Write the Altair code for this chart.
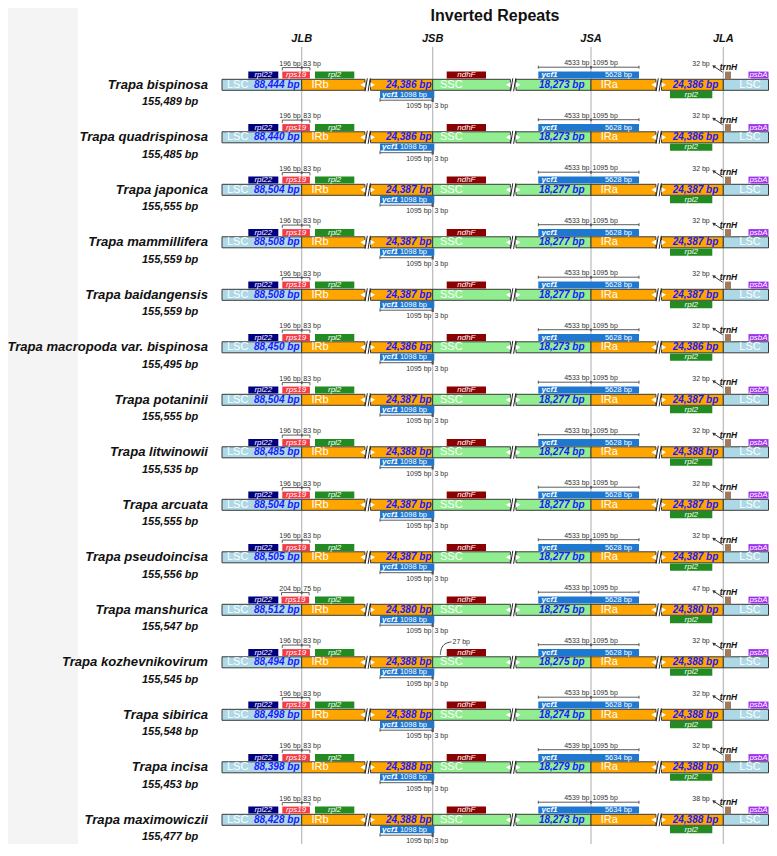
import altair as alt
import pandas as pd

# ---------------- data ----------------
species = ["Trapa bispinosa", "Trapa quadrispinosa", "Trapa japonica", "Trapa mammillifera",
           "Trapa baidangensis", "Trapa macropoda var. bispinosa", "Trapa potaninii",
           "Trapa litwinowii", "Trapa arcuata", "Trapa pseudoincisa", "Trapa manshurica",
           "Trapa kozhevnikovirum", "Trapa sibirica", "Trapa incisa", "Trapa maximowiczii"]
genome_bp = [155489, 155485, 155555, 155559, 155559, 155495, 155555, 155535, 155555, 155556,
             155547, 155545, 155548, 155453, 155477]
lsc_bp = [88444, 88440, 88504, 88508, 88508, 88450, 88504, 88485, 88504, 88505,
          88512, 88494, 88498, 88398, 88428]
ir_bp = [24386, 24386, 24387, 24387, 24387, 24386, 24387, 24388, 24387, 24387,
         24380, 24388, 24388, 24388, 24388]
ssc_bp = [18273, 18273, 18277, 18277, 18277, 18273, 18277, 18274, 18277, 18277,
          18275, 18275, 18274, 18279, 18273]
rps19_left = [196] * 10 + [204] + [196] * 4
rps19_right = [83] * 10 + [75] + [83] * 4
ycf1_ira_left = [4533] * 13 + [4539, 4539]
ycf1_ira_right = [1095] * 15
ycf1_ira_len = [5628] * 13 + [5634, 5634]
ycf1_irb_len = [1098] * 15
ycf1_irb_in = [1095] * 15
ycf1_irb_out = [3] * 15
trnh_gap = [32] * 10 + [47] + [32] * 3 + [38]
ndhf_gap = [None] * 11 + [27] + [None] * 3
junctions = ["JLB", "JSB", "JSA", "JLA"]
title = "Inverted Repeats"

# ---------------- layout ----------------
FONT = "Liberation Sans"
X0, X1 = 222.0, 768.5
J = {"JLB": 301.7, "JSB": 432.7, "JSA": 591.0, "JLA": 723.3}
BREAKS = [367.7, 513.2, 658.7]
HG = 2.8
PXBP = 0.099
ROW0, ROWSTEP = 84.8, 52.5

C = dict(LSC="#add8e6", IR="#ffa500", SSC="#90ee90", rpl22="#00007f", rps19="#f23c46",
         rpl2="#228b22", ycf1="#1f78d0", ndhF="#8b0000", trnH="#a07a5c", psbA="#a030f0",
         bp="#1a1aff", small="#333333", jline="#b4b4b4")

xs = alt.Scale(domain=[8, 769], nice=False, zero=False)
ys = alt.Scale(domain=[8, 844], nice=False, zero=False, reverse=True)


def X(f):
    return alt.X(f, type="quantitative", scale=xs, axis=None)


def Y(f):
    return alt.Y(f, type="quantitative", scale=ys, axis=None)


def fmt(v):
    return f"{v:,}"


bars, genes, segs, texts, tris, arrows, curves = [], [], [], [], [], [], []


def T(x, y, t, st):
    texts.append(dict(x=x, y=y, t=t, st=st))


def S(x, y, x2, y2, c=C["small"], w=0.8):
    segs.append(dict(x=x, y=y, x2=x2, y2=y2, c=c, w=w))


for i, name in enumerate(species):
    cy = ROW0 + ROWSTEP * i
    bt, bb = cy - 5.5, cy + 5.5
    # main bar pieces
    pieces = [(X0, J["JLB"], C["LSC"]),
              (J["JLB"], BREAKS[0] - HG, C["IR"]), (BREAKS[0] + HG, J["JSB"], C["IR"]),
              (J["JSB"], BREAKS[1] - HG, C["SSC"]), (BREAKS[1] + HG, J["JSA"], C["SSC"]),
              (J["JSA"], BREAKS[2] - HG, C["IR"]), (BREAKS[2] + HG, J["JLA"], C["IR"]),
              (J["JLA"], X1, C["LSC"])]
    for a, b, c in pieces:
        bars.append(dict(x=a, x2=b, y=bt, y2=bb, c=c))
    for bx in BREAKS:
        tris.append(dict(x=bx - HG - 2.2, y=cy, s="triangle-left"))
        tris.append(dict(x=bx + HG + 2.2, y=cy, s="triangle-right"))
        S(bx - 2.6, bb + 1, bx - 0.4, bt - 1, "#222222", 1)
        S(bx + 0.4, bb + 1, bx + 2.6, bt - 1, "#222222", 1)

    gt, gb = cy - 13.2, cy - 6.3
    lt, lb = cy + 6.3, cy + 13.5
    r19a = J["JLB"] - rps19_left[i] * PXBP
    r19b = J["JLB"] + rps19_right[i] * PXBP
    top_genes = [("rpl22", 248.3, 278.3), ("rps19", r19a, r19b), ("rpl2", 315.0, 354.3),
                 ("ndhF", 446.7, 486.0), ("ycf1", 538.3, 639.0), ("psbA", 748.5, X1)]
    for g, a, b in top_genes:
        genes.append(dict(x=a, x2=b, y=gt, y2=gb, c=C[g]))
        if g != "ycf1":
            T((a + b) / 2, (gt + gb) / 2, g, "gene")
    genes.append(dict(x=725.0, x2=731.0, y=gt, y2=bt, c=C["trnH"]))
    genes.append(dict(x=380.0, x2=434.3, y=lt, y2=lb, c=C["ycf1"]))
    genes.append(dict(x=670.0, x2=712.3, y=lt, y2=lb, c=C["rpl2"]))
    T(691.2, (lt + lb) / 2, "rpl2", "gene")
    T(541.5, (gt + gb) / 2, "ycf1", "ycf1")
    T(632.0, (gt + gb) / 2, f"{ycf1_ira_len[i]} bp", "genebp_r")
    T(382.0, (lt + lb) / 2, "ycf1", "ycf1")
    T(427.0, (lt + lb) / 2, f"{ycf1_irb_len[i]} bp", "genebp_r")

    # region labels and sizes
    T(227.0, cy, "LSC", "region_l")
    T(276.7, cy, f"{fmt(lsc_bp[i])} bp", "bp")
    T(311.5, cy, "IRb", "region_l")
    T(408.7, cy, f"{fmt(ir_bp[i])} bp", "bp")
    T(440.0, cy, "SSC", "region_l")
    T(561.7, cy, f"{fmt(ssc_bp[i])} bp", "bp")
    T(600.7, cy, "IRa", "region_l")
    T(695.5, cy, f"{fmt(ir_bp[i])} bp", "bp")
    T(750.0, cy, "LSC", "region_c")

    # species labels
    T(208.0, cy, name, "species")
    T(142.0, cy + 17.2, f"{fmt(genome_bp[i])} bp", "genome")

    # JLB bracket (rps19)
    yb = cy - 17.2
    S(r19a, yb, r19b, yb)
    S(r19a, yb, r19a, yb + 2.8)
    S(r19b, yb, r19b, yb + 2.8)
    S(J["JLB"], yb - 1.3, J["JLB"], yb + 1.5, "#555555", 1.6)
    T(J["JLB"] - 1.0, cy - 21.2, f"{rps19_left[i]} bp", "small_r")
    T(J["JLB"] + 1.6, cy - 21.2, f"{rps19_right[i]} bp", "small_l")

    # JSA bracket (ycf1 in IRa)
    yb = cy - 17.6
    S(538.3, yb, 639.0, yb)
    S(538.3, yb - 1.5, 538.3, yb + 1.5)
    S(639.0, yb - 1.5, 639.0, yb + 1.5)
    S(J["JSA"], yb - 1.3, J["JSA"], yb + 1.5, "#555555", 1.6)
    T(J["JSA"] - 1.5, cy - 21.4, f"{ycf1_ira_left[i]} bp", "small_r")
    T(J["JSA"] + 1.5, cy - 21.4, f"{ycf1_ira_right[i]} bp", "small_l")

    # JSB bracket (ycf1 in IRb)
    yb = cy + 15.4
    S(380.0, yb, J["JSB"], yb)
    S(380.0, yb - 2, 380.0, yb + 1.5)
    S(J["JSB"], yb - 2.2, J["JSB"], yb + 1.8, "#555555", 2.2)
    T(J["JSB"] - 1.2, cy + 21.2, f"{ycf1_irb_in[i]} bp", "small_r")
    T(J["JSB"] + 1.8, cy + 21.2, f"{ycf1_irb_out[i]} bp", "small_l")

    # trnH distance
    S(722.7, cy - 12.6, 714.5, cy - 18.0, "#333333", 1)
    arrows.append(dict(x=713.6, y=cy - 18.6))
    T(701.0, cy - 21.2, f"{trnh_gap[i]} bp", "small_c")
    T(728.5, cy - 17.4, "trnH", "trnh")

    # ndhF gap
    if ndhf_gap[i] is not None:
        pts = [(440.3, cy - 7.5), (441.0, cy - 14.0), (444.5, cy - 19.0), (451.5, cy - 20.5)]
        for k, (px, py) in enumerate(pts):
            curves.append(dict(x=px, y=py, k=k))
        T(452.5, cy - 20.5, f"{ndhf_gap[i]} bp", "small_l")

# junction lines & labels
for j in junctions:
    S(J[j], 47.0, J[j], 844.0, C["jline"], 1.1)
    T(J[j], 39.0, j, "junction")
T(495.0, 16.0, title, "title")

STYLES = {
    "title": dict(fontSize=16, fontWeight="bold", color="#111111", align="center"),
    "junction": dict(fontSize=11, fontWeight="bold", fontStyle="italic", color="#111111", align="center"),
    "species": dict(fontSize=13.1, fontWeight="bold", fontStyle="italic", color="#111111", align="right"),
    "genome": dict(fontSize=11, fontWeight="bold", fontStyle="italic", color="#111111", align="left"),
    "region_l": dict(fontSize=11, color="white", align="left"),
    "region_c": dict(fontSize=11, color="white", align="center"),
    "bp": dict(fontSize=10, fontWeight="bold", fontStyle="italic", color=C["bp"], align="center"),
    "gene": dict(fontSize=8, fontStyle="italic", color="white", align="center"),
    "ycf1": dict(fontSize=8, fontWeight="bold", fontStyle="italic", color="white", align="left"),
    "genebp_r": dict(fontSize=7.5, color="white", align="right"),
    "small_r": dict(fontSize=7, color=C["small"], align="right"),
    "small_l": dict(fontSize=7, color=C["small"], align="left"),
    "small_c": dict(fontSize=7, color=C["small"], align="center"),
    "trnh": dict(fontSize=8.5, fontWeight="bold", fontStyle="italic", color="#111111", align="center"),
}

# ---------------- chart ----------------
bg = alt.Chart(pd.DataFrame([dict(x=8, x2=78, y=8, y2=844)])).mark_rect(color="#f4f4f4").encode(
    x=X("x"), x2="x2", y=Y("y"), y2="y2")

seg_df = pd.DataFrame(segs)
jl = seg_df[seg_df["c"] == C["jline"]]
other = seg_df[seg_df["c"] != C["jline"]]

jrules = alt.Chart(jl).mark_rule().encode(
    x=X("x"), x2="x2", y=Y("y"), y2="y2",
    color=alt.Color("c:N", scale=None), strokeWidth=alt.StrokeWidth("w:Q", scale=None))

bar_layer = alt.Chart(pd.DataFrame(bars)).mark_rect(stroke="#3a3a3a", strokeWidth=1).encode(
    x=X("x"), x2="x2", y=Y("y"), y2="y2", fill=alt.Fill("c:N", scale=None))

gene_layer = alt.Chart(pd.DataFrame(genes)).mark_rect().encode(
    x=X("x"), x2="x2", y=Y("y"), y2="y2", fill=alt.Fill("c:N", scale=None))

tri_layer = alt.Chart(pd.DataFrame(tris)).mark_point(filled=True, size=28, opacity=1, color="white").encode(
    x=X("x"), y=Y("y"), shape=alt.Shape("s:N", scale=None))

rules = alt.Chart(other).mark_rule().encode(
    x=X("x"), x2="x2", y=Y("y"), y2="y2",
    color=alt.Color("c:N", scale=None), strokeWidth=alt.StrokeWidth("w:Q", scale=None))

arrow_layer = alt.Chart(pd.DataFrame(arrows)).mark_point(
    shape="triangle-up", angle=303, size=14, filled=True, opacity=1, color="#333333").encode(
    x=X("x"), y=Y("y"))

curve_layer = alt.Chart(pd.DataFrame(curves)).mark_line(
    interpolate="basis", color="#333333", strokeWidth=0.9).encode(
    x=X("x"), y=Y("y"), order="k:Q")

tdf = pd.DataFrame(texts)
text_layers = []
for st, kw in STYLES.items():
    sub = tdf[tdf["st"] == st]
    if len(sub) == 0:
        continue
    text_layers.append(alt.Chart(sub).mark_text(baseline="middle", font=FONT, **kw).encode(
        x=X("x"), y=Y("y"), text="t:N"))

chart = alt.layer(bg, jrules, bar_layer, gene_layer, tri_layer, rules, arrow_layer, curve_layer,
                  *text_layers).properties(
    width=761, height=836, padding=0, autosize=alt.AutoSizeParams(type="none")
).configure_view(stroke=None)

chart.save("out.html", embed_options={"renderer": "svg", "actions": False})
